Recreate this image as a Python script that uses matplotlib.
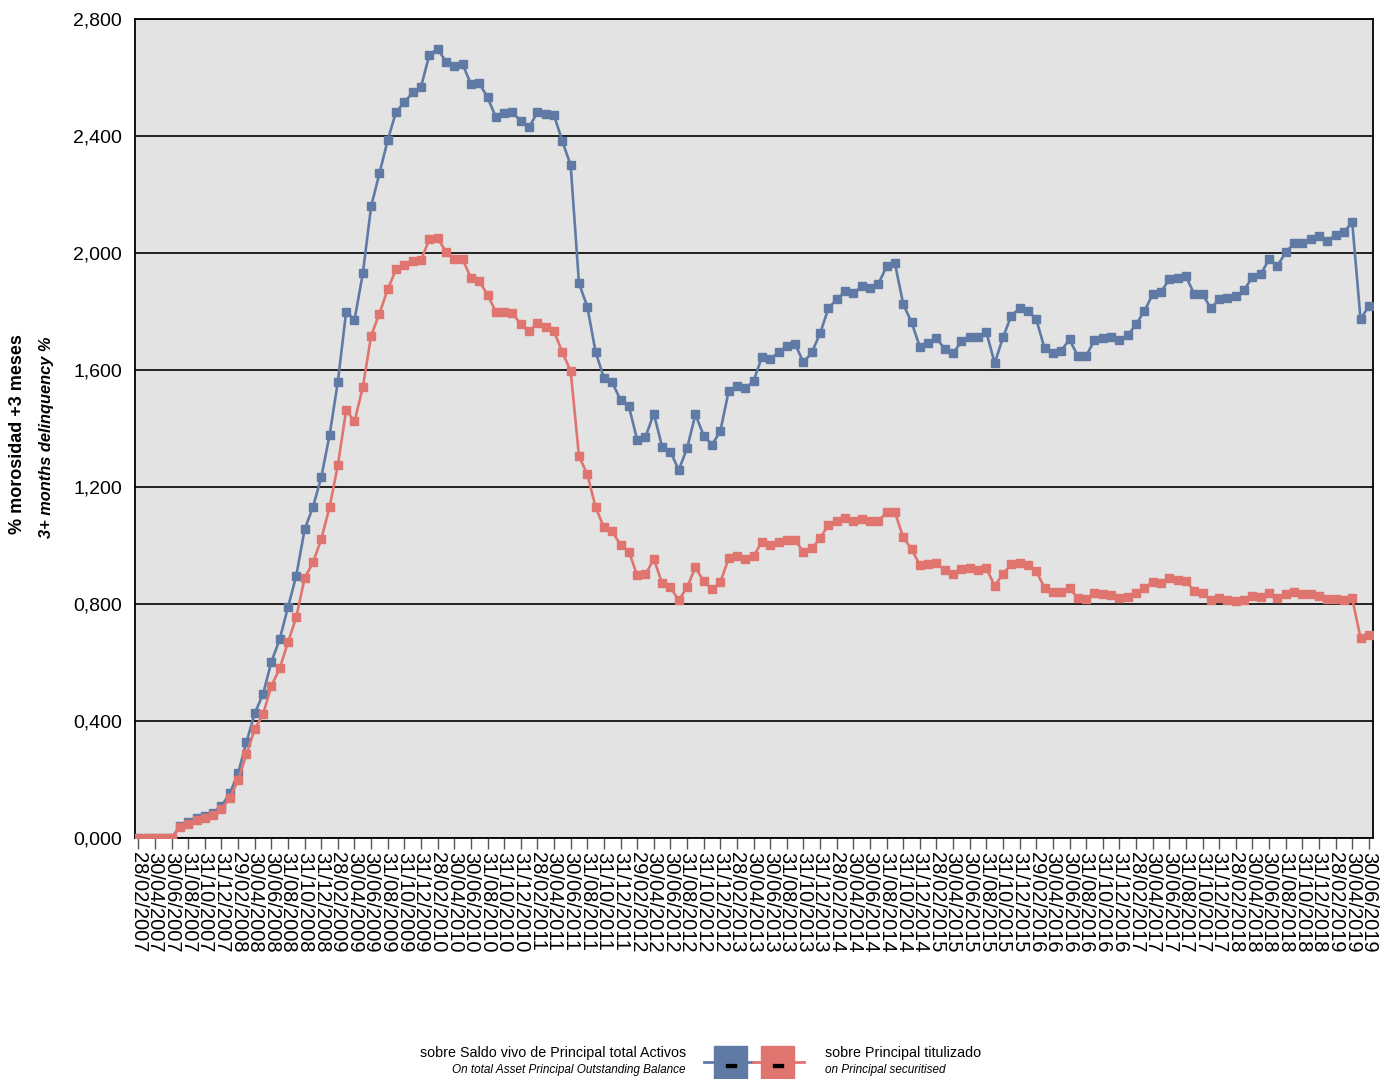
import matplotlib
matplotlib.use("Agg")
import matplotlib.pyplot as plt
import numpy as np
import pandas as pd
from matplotlib.lines import Line2D
from matplotlib.patches import Rectangle
from matplotlib.ticker import FuncFormatter

plt.rcParams['font.family'] = ['Liberation Sans', 'DejaVu Sans']

# month-end dates, Feb 2007 .. Jun 2019
dates = pd.date_range("2007-02-01", "2019-06-30", freq="ME")
date_labels = [d.strftime("%d/%m/%Y") for d in dates]

# % 3+ months delinquency on total asset principal outstanding balance
total_assets = [
    0.000, 0.000, 0.000, 0.000, 0.000, 0.040, 0.055, 0.067, 0.075, 0.087,
    0.109, 0.153, 0.221, 0.328, 0.426, 0.492, 0.602, 0.679, 0.789, 0.897,
    1.055, 1.131, 1.233, 1.377, 1.560, 1.800, 1.771, 1.930, 2.159, 2.272,
    2.386, 2.483, 2.515, 2.549, 2.568, 2.677, 2.698, 2.654, 2.638, 2.645,
    2.578, 2.581, 2.532, 2.465, 2.479, 2.481, 2.451, 2.430, 2.481, 2.475,
    2.471, 2.382, 2.300, 1.896, 1.817, 1.661, 1.573, 1.558, 1.497, 1.476,
    1.361, 1.371, 1.451, 1.337, 1.321, 1.258, 1.332, 1.448, 1.376, 1.344,
    1.391, 1.527, 1.544, 1.537, 1.562, 1.645, 1.636, 1.661, 1.682, 1.688,
    1.626, 1.660, 1.725, 1.811, 1.842, 1.869, 1.862, 1.886, 1.882, 1.894,
    1.954, 1.965, 1.825, 1.763, 1.679, 1.691, 1.708, 1.672, 1.657, 1.698,
    1.712, 1.712, 1.729, 1.623, 1.712, 1.786, 1.811, 1.802, 1.773, 1.674,
    1.657, 1.666, 1.705, 1.647, 1.649, 1.701, 1.708, 1.712, 1.703, 1.718,
    1.756, 1.801, 1.859, 1.867, 1.910, 1.915, 1.920, 1.860, 1.859, 1.811,
    1.842, 1.845, 1.852, 1.874, 1.917, 1.928, 1.978, 1.956, 2.002, 2.033,
    2.033, 2.048, 2.058, 2.040, 2.062, 2.072, 2.105, 1.774, 1.818,
]

# % 3+ months delinquency on principal securitised
securitised = [
    0.000, 0.000, 0.000, 0.000, 0.000, 0.036, 0.048, 0.062, 0.069, 0.079,
    0.098, 0.137, 0.198, 0.286, 0.372, 0.423, 0.519, 0.580, 0.669, 0.755,
    0.888, 0.942, 1.021, 1.131, 1.275, 1.463, 1.424, 1.541, 1.717, 1.793,
    1.876, 1.944, 1.958, 1.974, 1.975, 2.047, 2.050, 2.005, 1.981, 1.979,
    1.915, 1.903, 1.858, 1.798, 1.798, 1.794, 1.757, 1.732, 1.761, 1.746,
    1.732, 1.661, 1.596, 1.305, 1.244, 1.131, 1.062, 1.048, 1.002, 0.979,
    0.898, 0.901, 0.954, 0.871, 0.857, 0.813, 0.857, 0.925, 0.878, 0.850,
    0.874, 0.956, 0.963, 0.953, 0.963, 1.013, 1.002, 1.011, 1.019, 1.019,
    0.977, 0.990, 1.025, 1.070, 1.084, 1.093, 1.084, 1.091, 1.084, 1.084,
    1.113, 1.113, 1.028, 0.987, 0.933, 0.936, 0.939, 0.916, 0.903, 0.920,
    0.923, 0.916, 0.922, 0.862, 0.903, 0.936, 0.939, 0.932, 0.912, 0.855,
    0.841, 0.841, 0.854, 0.819, 0.816, 0.836, 0.833, 0.830, 0.821, 0.823,
    0.836, 0.854, 0.875, 0.871, 0.889, 0.882, 0.879, 0.844, 0.836, 0.814,
    0.821, 0.814, 0.810, 0.814, 0.827, 0.823, 0.836, 0.821, 0.833, 0.841,
    0.833, 0.833, 0.827, 0.816, 0.816, 0.814, 0.819, 0.684, 0.693,
]

y_ticks = [0.0, 0.4, 0.8, 1.2, 1.6, 2.0, 2.4, 2.8]

BLUE = '#5f7aa5'
RED = '#e0756f'

fig = plt.figure(figsize=(13.91, 10.79), dpi=100)
ax = fig.add_axes([135 / 1391, 1 - 838 / 1079, (1373 - 135) / 1391, (838 - 19) / 1079])
ax.set_facecolor('#e3e3e3')

x = np.arange(len(dates))
ax.plot(x, total_assets, color=BLUE, lw=1.9, marker='s', ms=5.2, zorder=3)
ax.plot(x, securitised, color=RED, lw=1.9, marker='s', ms=5.2, zorder=3)

ax.set_xlim(-0.4, len(dates) - 1 + 0.5)
ax.set_ylim(0, 2.8)
ax.set_yticks(y_ticks)
ax.yaxis.set_major_formatter(FuncFormatter(lambda v, p: ("%.3f" % v).replace('.', ',')))
ax.grid(axis='y', color='black', lw=1.2)
ax.set_axisbelow(True)

ax.set_xticks(x[::2])
ax.set_xticklabels(date_labels[::2], rotation=-90, fontsize=14.5, va='top', ha='center')
ax.tick_params(axis='x', length=8, width=1, color='#555555', pad=2)
ax.tick_params(axis='y', length=0, pad=9.5, labelsize=14)

for s in ax.spines.values():
    s.set_color('black')
    s.set_linewidth(1.3)

# axis title (two lines)
fig.text(18 / 1391, 1 - 434 / 1079, '% morosidad +3 meses', rotation=90,
         fontsize=13, fontweight='bold', ha='center', va='center')
fig.text(47 / 1391, 1 - 437 / 1079, '3+ months delinquency %', rotation=90,
         fontsize=11.8, fontweight='bold', style='italic', ha='center', va='center')

# legend drawn by hand
fig.text(686 / 1391, 1 - 1053 / 1079, 'sobre Saldo vivo de Principal total Activos',
         fontsize=10.3, ha='right', va='center')
fig.text(686 / 1391, 1 - 1070 / 1079, 'On total Asset Principal Outstanding Balance',
         fontsize=8.5, style='italic', ha='right', va='center')
fig.text(825 / 1391, 1 - 1053 / 1079, 'sobre Principal titulizado',
         fontsize=10.3, ha='left', va='center')
fig.text(825 / 1391, 1 - 1070 / 1079, 'on Principal securitised',
         fontsize=8.5, style='italic', ha='left', va='center')

def fx(px):
    return px / 1391

def fy(py):
    return 1 - py / 1079

fig.add_artist(Line2D([fx(704), fx(753)], [fy(1062), fy(1062)], color=BLUE, lw=2, transform=fig.transFigure))
fig.add_artist(Line2D([fx(753), fx(804)], [fy(1062), fy(1062)], color=RED, lw=2, transform=fig.transFigure))
fig.add_artist(Rectangle((fx(714), fy(1079)), fx(33), 33 / 1079, color=BLUE, transform=fig.transFigure))
fig.add_artist(Rectangle((fx(761), fy(1079)), fx(33), 33 / 1079, color=RED, transform=fig.transFigure))
fig.add_artist(Rectangle((fx(726), fy(1067)), fx(10), 4 / 1079, color='black', transform=fig.transFigure))
fig.add_artist(Rectangle((fx(773), fy(1067)), fx(10), 4 / 1079, color='black', transform=fig.transFigure))

fig.savefig('out.png', dpi=100, facecolor='white')
